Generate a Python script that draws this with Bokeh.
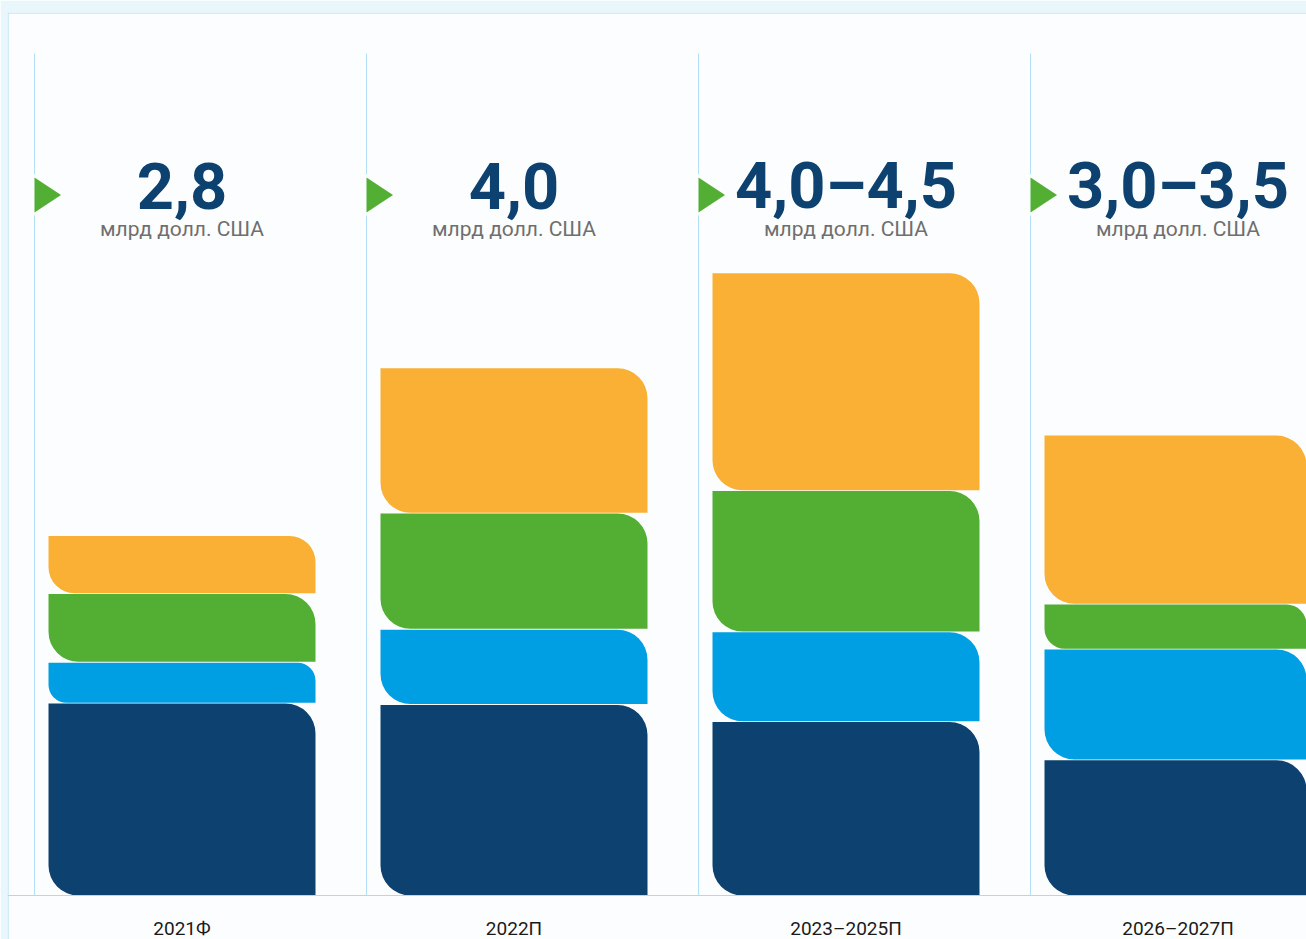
import numpy as np
from bokeh.plotting import figure
from bokeh.models import Range1d, FixedTicker, Span
from bokeh.core.properties import value
from bokeh.embed import file_html
from bokeh.resources import INLINE

# ---------------- data ----------------
categories = ["2021Ф", "2022П", "2023–2025П", "2026–2027П"]
headline = ["2,8", "4,0", "4,0–4,5", "3,0–3,5"]
unit_label = "млрд долл. США"

# stacked segments (млрд долл. США), bottom -> top
seg_navy = [1.46, 1.45, 1.32, 1.03]
seg_blue = [0.31, 0.57, 0.68, 0.84]
seg_green = [0.52, 0.88, 1.07, 0.34]
seg_orange = [0.44, 1.10, 1.65, 1.28]

series = [seg_navy, seg_blue, seg_green, seg_orange]
colors = ["#0d4170", "#009fe3", "#53ae34", "#f9b034"]

# ---------------- layout constants ----------------
W, H = 1306, 939
PAD_L, PAD_T = 7, 12           # light-blue outer margin (figure border)
BASE = 895                     # pixel row of the baseline
PX_Y = 132.0                   # px per unit on y
PX_X = 332.0                   # px per category slot
X0 = 0.5 - (181.5 - PAD_L) / PX_X
BAR_W = 267 / PX_X
LINE_OFF = -147.5 / PX_X
PANEL = "#fbfdfe"
OUTER = "#e9f6fc"
LINE_C = "#b3e0f5"
EDGE_C = "#aadbf2"


def ypix(row):
    """convert a pixel row to data units (relative to the baseline)"""
    return (BASE - row) / PX_Y


p = figure(width=W, height=H, output_backend="svg", toolbar_location=None,
           x_range=Range1d(X0, X0 + (W - PAD_L) / PX_X),
           y_range=Range1d(ypix(H), ypix(PAD_T)),
           y_axis_location=None, min_border_left=PAD_L, min_border_right=0,
           min_border_top=PAD_T, min_border_bottom=0)
p.background_fill_color = PANEL
p.border_fill_color = OUTER
p.outline_line_color = None
p.grid.visible = False

# thin panel edges (top and left)
p.add_layout(Span(location=ypix(PAD_T + 0.5), dimension="width", line_color=EDGE_C, line_width=1))
p.add_layout(Span(location=X0 + 0.5 / PX_X, dimension="height", line_color=EDGE_C, line_width=1))

xs = [i + 0.5 for i in range(len(categories))]
n = len(xs)

# separator lines with a gap around the triangle markers
line_x = [x + LINE_OFF for x in xs]
p.segment(x0=line_x, y0=[0] * n, x1=line_x, y1=[ypix(215)] * n, line_color=LINE_C, line_width=1)
p.segment(x0=line_x, y0=[ypix(174)] * n, x1=line_x, y1=[ypix(53)] * n, line_color=LINE_C, line_width=1)

# green triangles
tri_yc = ypix(194.5)
tri_h = 17.5 / PX_Y
tri_w = 26.5 / PX_X
p.patches(xs=[[lx, lx, lx + tri_w] for lx in line_x],
          ys=[[tri_yc - tri_h, tri_yc + tri_h, tri_yc] for _ in line_x],
          fill_color="#53ae34", line_color=None)

# stacked rounded segments
gap = 0.8 / PX_Y
for i, x in enumerate(xs):
    bottom = 0.0
    for vals, col in zip(series, colors):
        v = vals[i]
        top = bottom + v
        hpx = v * PX_Y
        r = int(round(min(30, 0.45 * hpx)))
        p.vbar(x=[x], width=BAR_W, bottom=[bottom], top=[top - gap],
               fill_color=col, line_color=None, border_radius=(0, r, 0, r))
        bottom = top

# headline numbers and units
p.text(x=xs, y=[ypix(208 - 0.3415 * 65)] * n, text=headline,
       text_font=value("Roboto"), text_font_style="bold", text_font_size="65px",
       text_color="#0d4170", text_align="center", text_baseline="middle")
p.text(x=xs, y=[ypix(236 - 0.3415 * 21)] * n, text=[unit_label] * n,
       text_font=value("Roboto"), text_font_size="21px",
       text_color="#6f6f6f", text_align="center", text_baseline="middle")

# x axis at the baseline (inside the panel) with category labels
ax = p.xaxis[0]
ax.fixed_location = 0
ax.ticker = FixedTicker(ticks=xs)
ax.major_label_overrides = {x: c for x, c in zip(xs, categories)}
ax.axis_line_color = "#a9dbf3"
ax.axis_line_width = 1
ax.major_tick_line_color = None
ax.minor_tick_line_color = None
ax.major_tick_out = 0
ax.minor_tick_out = 0
ax.major_tick_in = 0
ax.minor_tick_in = 0
ax.major_label_standoff = 21
ax.major_label_text_font = "Roboto"
ax.major_label_text_font_size = "19px"
ax.major_label_text_color = "#1a1a1a"

open("out.html", "w").write(file_html(p, INLINE))
